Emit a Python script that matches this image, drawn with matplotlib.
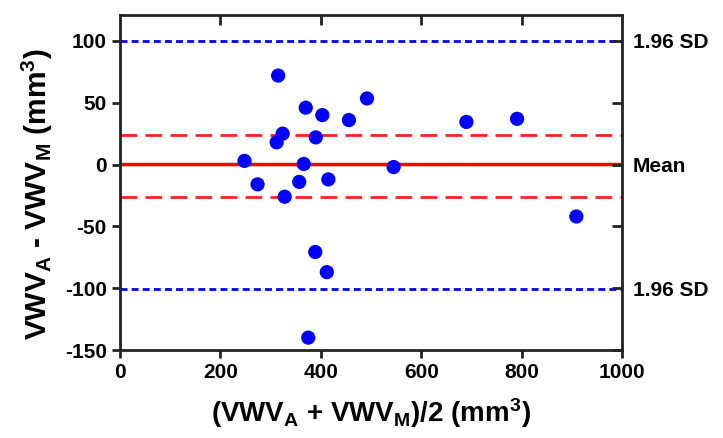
import matplotlib
matplotlib.use("Agg")
import matplotlib.pyplot as plt
import numpy as np

plt.rcParams['font.family'] = ['Liberation Sans', 'DejaVu Sans']
plt.rcParams['font.weight'] = 'bold'
plt.rcParams['mathtext.fontset'] = 'custom'
plt.rcParams['mathtext.rm'] = 'Liberation Sans:bold'
plt.rcParams['mathtext.bf'] = 'Liberation Sans:bold'
plt.rcParams['mathtext.default'] = 'rm'
plt.rcParams['axes.unicode_minus'] = False

# Data (mean of the two methods, difference)
mean_vals = [315, 492, 370, 403, 456, 690, 791, 324, 312, 390, 248, 366, 545,
             274, 357, 415, 328, 909, 389, 412, 375]
diff_vals = [72, 53.5, 46, 40, 36, 34.5, 37, 25, 18, 22, 3, 0.5, -2,
             -16, -14, -12, -26, -42, -70.7, -87, -140]

bias = 0.5
ci_upper = 24
ci_lower = -26
loa_upper = 99.7
loa_lower = -100.5

x_ticks = [0, 200, 400, 600, 800, 1000]
y_ticks = [-150, -100, -50, 0, 50, 100]
right_labels = ['', '1.96 SD', '', 'Mean', '', '1.96 SD']

fig = plt.figure(figsize=(7.23, 4.38), dpi=100)
ax = fig.add_axes([120/723, 1-350/438, (622-120)/723, (350-15)/438])

ax.axhline(0, color='#555555', lw=1.0, ls=(0, (1, 1)), zorder=1)
ax.axhline(bias, color='#ff0000', lw=2.5, zorder=2)
ax.axhline(ci_upper, color='#ff2020', lw=2, ls=(0, (6, 3)), zorder=2)
ax.axhline(ci_lower, color='#ff2020', lw=2, ls=(0, (6, 3)), zorder=2)
ax.axhline(loa_upper, color='#0000ff', lw=2, ls=(0, (2.5, 1.5)), zorder=2)
ax.axhline(loa_lower, color='#0000ff', lw=2, ls=(0, (2.5, 1.5)), zorder=2)

ax.scatter(mean_vals, diff_vals, s=105, color='#0000ff', zorder=3, edgecolors='none')

ax.set_xlim(0, 1000)
ax.set_ylim(-150, 121)
ax.set_xticks(x_ticks)
ax.set_yticks(y_ticks)
ax.tick_params(axis='both', labelsize=15, width=2, length=6, direction='out', color='#222222')
for lab in ax.get_xticklabels() + ax.get_yticklabels():
    lab.set_fontweight('bold')

for s in ax.spines.values():
    s.set_linewidth(2)
    s.set_color('#222222')

ax2 = ax.twinx()
ax2.set_ylim(ax.get_ylim())
ax2.set_yticks(y_ticks)
ax2.set_yticklabels(right_labels, fontsize=15, fontweight='bold')
ax2.tick_params(axis='y', direction='in', width=2, length=7, color='#222222', pad=8)
for s in ax2.spines.values():
    s.set_visible(False)

# top ticks pointing inward
secx = ax.secondary_xaxis('top')
secx.set_xticks([200, 400, 600, 800])
secx.tick_params(direction='in', width=2, length=7, color='#222222', labeltop=False)
secx.spines['top'].set_visible(False)

ax.set_xlabel('(VWV$_\\mathrm{A}$ + VWV$_\\mathrm{M}$)/2 (mm$^3$)', fontsize=20, fontweight='bold', labelpad=10)
ax.set_ylabel('VWV$_\\mathrm{A}$ - VWV$_\\mathrm{M}$ (mm$^3$)', fontsize=21.5, fontweight='bold', labelpad=7)
ax.yaxis.label.set_y(0.465)

fig.savefig('out.png', dpi=100)
